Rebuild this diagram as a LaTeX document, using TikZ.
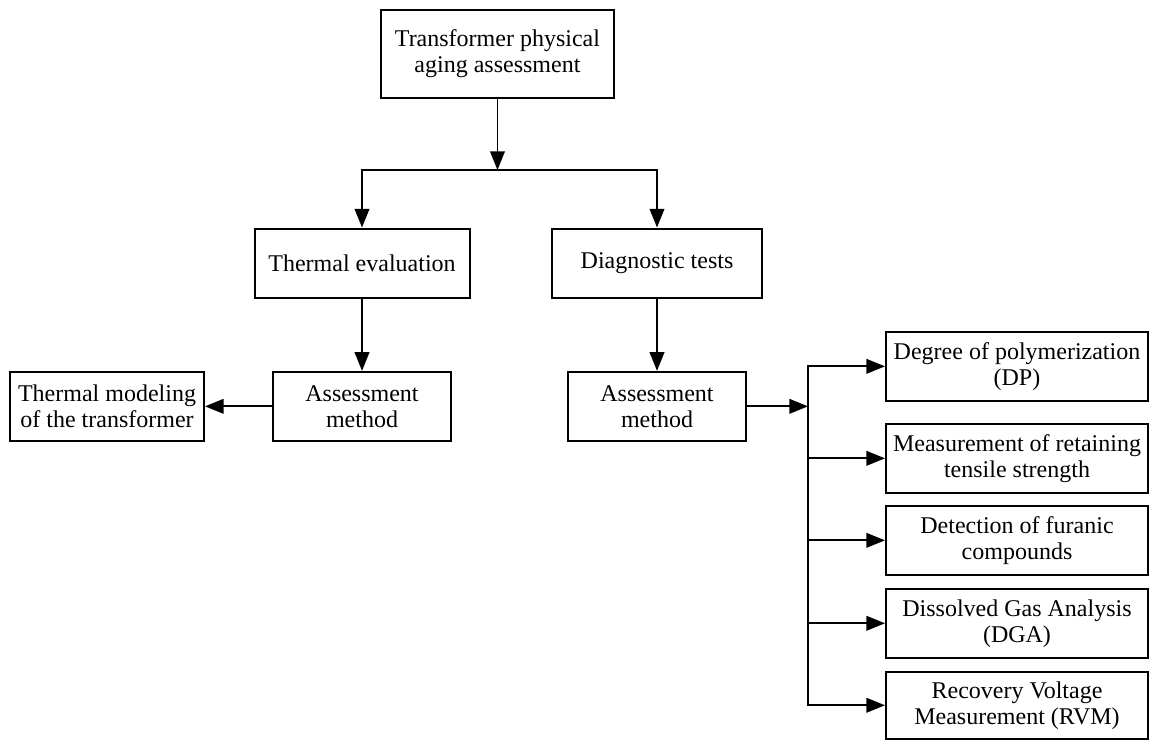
\documentclass[tikz,border=0pt]{standalone}
\usepackage{fontspec}
\setmainfont{Liberation Serif}
\usetikzlibrary{arrows.meta}
\tikzstyle{block} = [rectangle, draw=black, line width=1.5pt, align=center, inner sep=2pt, minimum height=51.75pt, font=\fontsize{18}{19.5}\selectfont]
\tikzstyle{test} = [block, minimum width=196.5pt]
\tikzstyle{arrow} = [line width=1.3pt, -{Triangle[length=14pt,width=11pt]}]

\begin{document}
\begin{tikzpicture}[node distance=60pt]
\useasboundingbox (0,0) rectangle (861.75pt,-554.25pt);

% Root
\node (T) [block, minimum width=174.75pt, minimum height=66pt] at (373.1pt,-40.5pt) {Transformer physical\\aging assessment};

% Thermal side
\node (TE) [block, below of=T, yshift=-96.75pt, xshift=-101.6pt, minimum width=161.25pt] {Thermal evaluation};
\node (AL) [block, below of=TE, yshift=-47.5pt, minimum width=133.5pt] {Assessment\\method};
\node (TM) [block, left of=AL, xshift=-131.25pt, minimum width=145.5pt] {Thermal modeling\\of the transformer};

% Diagnostic side
\node (DT) [block, below of=T, yshift=-96.75pt, xshift=119.65pt, minimum width=157.5pt] {Diagnostic tests};
\node (AR) [block, below of=DT, yshift=-47.5pt, minimum width=133.5pt] {Assessment\\method};

% Diagnostic tests list
\node (DP) [test, right of=AR, xshift=210pt, yshift=30pt] {Degree of polymerization\\(DP)};
\node (TS) [test, below of=DP, yshift=-9pt] {Measurement of retaining\\tensile strength};
\node (FC) [test, below of=TS, yshift=-1.5pt] {Detection of furanic\\compounds};
\node (DGA) [test, below of=FC, yshift=-2.2pt] {Dissolved Gas Analysis\\(DGA)};
\node (RVM) [test, below of=DGA, yshift=-1.5pt, minimum height=50.25pt] {Recovery Voltage\\Measurement (RVM)};

% Junctions
\coordinate (S) at ([yshift=-87pt]T.center);
\coordinate (B) at ([xshift=45.75pt]AR.east);

% Connecting arrows
\draw [arrow] (T) -- (S);
\draw [arrow] (S) -| (TE);
\draw [arrow] (S) -| (DT);
\draw [arrow] (TE) -- (AL);
\draw [arrow] (AL) -- (TM);
\draw [arrow] (DT) -- (AR);
\draw [arrow] (AR) -- (B);

\draw [arrow] (B) |- (DP);
\draw [arrow] (B) |- (TS);
\draw [arrow] (B) |- (FC);
\draw [arrow] (B) |- (DGA);
\draw [arrow] (B) |- (RVM);

\end{tikzpicture}
\end{document}
